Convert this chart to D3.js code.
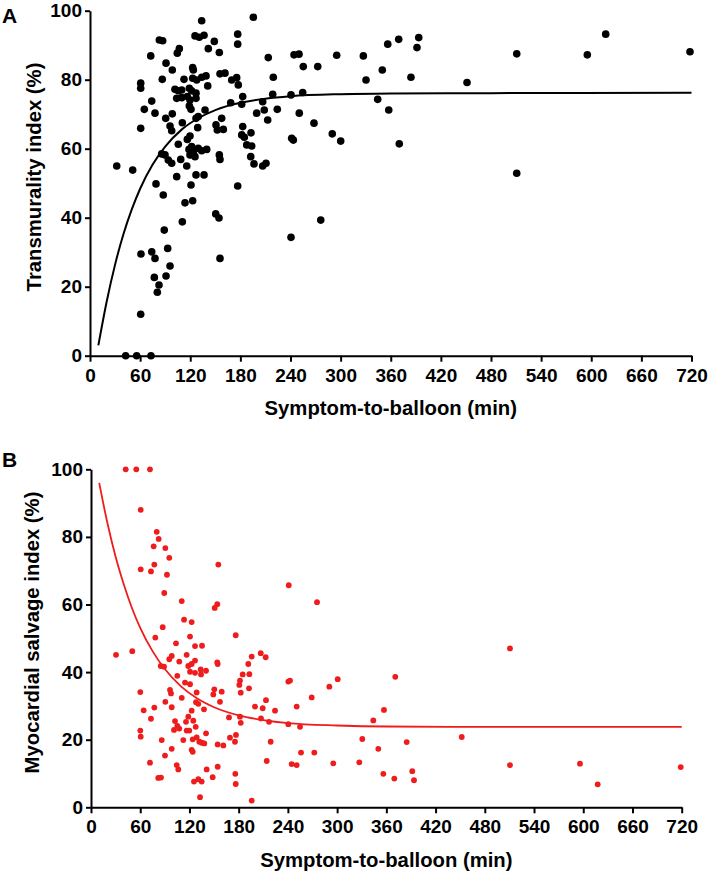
<!DOCTYPE html>
<html><head><meta charset="utf-8">
<script src="https://cdn.jsdelivr.net/npm/d3@7/dist/d3.min.js"></script>
<style>body{margin:0;background:#fff}</style>
</head><body>
<svg id="c" width="709" height="875"></svg>
<script>
const xTicks = [0,60,120,180,240,300,360,420,480,540,600,660,720];
const yTicks = [0,20,40,60,80,100];
const xTitle = "Symptom-to-balloon (min)";
const aTitle = "Transmurality index (%)";
const bTitle = "Myocardial salvage index (%)";

// Panel A: transmurality index vs symptom-to-balloon time
const aMinutes = [133.7,195.5,83.0,87.0,125.7,130.8,136.5,176.8,176.8,148.8,141.6,106.9,104.5,154.8,72.7,213.4,91.0,98.5,122.9,123.7,
155.6,161.6,86.5,112.5,122.9,127.7,133.7,138.9,169.6,175.6,177.5,60.7,60.7,101.7,105.7,109.8,118.9,121.7,126.9,140.9,
103.8,109.8,116.5,119.7,126.9,73.9,182.8,168.4,181.6,206.7,65.0,118.9,120.9,137.7,199.5,208.6,77.8,90.6,98.5,129.6,
126.9,157.6,212.7,110.5,95.8,97.8,60.7,128.9,150.8,152.4,159.6,182.8,181.6,192.7,119.7,116.5,105.7,121.7,118.5,123.7,
129.6,133.7,139.7,119.7,125.7,184.7,187.6,193.6,85.8,89.8,154.8,155.6,192.4,93.7,97.8,108.6,115.8,196.3,206.7,210.7,
32.0,51.1,103.8,126.9,136.5,218.7,219.4,224.2,240.6,241.4,243.4,244.2,250.2,250.5,254.6,255.3,268.1,272.6,290.0,295.3,
300.1,327.2,330.4,344.4,349.9,356.4,357.6,369.5,370.2,384.2,391.4,393.5,451.3,510.8,510.8,595.3,617.3,718.2,113.7,110.5,
150.5,154.4,88.9,93.0,61.0,73.9,77.8,95.8,155.6,77.0,91.0,82.6,80.6,60.7,42.7,55.9,73.0,240.6,276.2,79.0,
87.7,120.9,122.9,176.8];
const aValues = [97.1,98.1,91.5,91.3,92.7,92.3,92.9,93.2,90.3,91.1,89.0,89.0,87.7,87.9,86.9,86.4,84.8,82.8,83.5,82.8,
81.7,81.9,80.1,80.1,80.4,79.9,80.7,81.1,79.9,80.6,78.5,79.0,77.5,77.2,76.8,77.0,77.5,76.8,76.1,78.2,
74.6,74.8,75.1,74.1,74.6,73.8,75.1,73.3,72.9,73.6,71.4,72.4,71.4,71.2,70.3,71.2,70.3,68.8,70.1,69.3,
68.8,68.8,68.3,67.5,66.6,65.2,65.9,66.1,66.9,65.4,65.6,66.4,64.0,64.6,63.7,62.7,61.3,60.6,59.8,59.1,
60.1,59.4,59.8,58.2,57.7,63.3,61.1,60.8,58.5,58.2,58.2,56.9,57.7,56.7,55.8,56.9,55.0,55.6,55.0,55.8,
55.0,53.8,51.9,52.4,52.4,75.8,80.7,71.4,75.6,63.0,62.5,87.2,87.4,70.3,76.3,83.8,67.4,83.8,64.3,87.1,
62.2,86.9,79.9,74.3,82.8,90.3,71.2,91.7,61.4,80.7,89.3,92.2,79.2,87.5,52.9,87.2,93.2,88.1,44.3,38.8,
41.1,39.9,36.4,31.1,29.5,30.1,28.2,26.0,28.2,22.7,23.1,20.5,18.4,12.0,0,0,0,34.3,39.3,49.8,
46.6,49.5,44.9,49.2];
const aFitMinutes = [10,20,30,40,50,60,75,90,110,130,150,180,210,240,300,360,480,720];
const aFitValues  = [3.0,15.7,26.4,35.2,42.4,48.4,55.4,60.6,65.6,68.9,71.2,73.3,74.5,75.2,75.8,76.0,76.1,76.2];

// Panel B: myocardial salvage index vs symptom-to-balloon time
const bMinutes = [42.3,55.2,71.9,60.6,80.1,82.5,76.4,90.6,95.4,60.6,77.2,73.1,92.6,155.2,89.3,110.6,153.9,150.8,241.0,275.5,
87.4,78.4,113.4,122.7,120.7,103.6,176.4,30.5,50.3,126.8,135.3,98.4,95.4,107.6,116.6,126.8,85.0,89.0,118.6,122.7,
153.9,154.4,120.7,126.8,134.1,140.2,133.7,105.2,195.9,191.7,193.0,184.9,206.9,212.9,114.6,120.7,128.8,60.1,96.3,97.5,
150.3,149.1,159.3,181.6,180.8,182.5,192.6,110.6,90.6,98.4,128.0,130.8,157.2,77.2,64.2,122.7,137.7,73.1,118.6,124.7,
115.8,102.4,105.2,107.6,101.2,168.2,181.6,182.5,199.9,209.3,213.3,207.2,217.0,127.6,116.6,119.8,140.2,60.1,60.6,86.2,
112.5,124.0,128.8,132.0,134.9,138.1,154.4,161.3,169.4,176.7,175.5,122.7,124.0,98.4,90.2,71.9,104.5,106.4,154.4,141.0,
214.2,82.0,85.3,125.5,130.8,134.9,148.3,175.9,176.4,132.9,195.9,224.3,219.0,240.5,242.6,240.5,244.6,250.7,250.7,254.8,
256.0,272.2,269.0,290.5,300.7,295.3,327.0,330.7,344.1,350.2,357.1,356.3,369.7,370.9,384.8,391.6,393.7,451.9,510.7,510.7,
596.0,617.6,718.8];
const bValues = [100,100,100,88.0,81.5,79.4,77.2,76.7,73.8,70.4,71.8,69.8,68.8,71.8,63.4,61.0,60.1,59.0,65.7,60.7,
53.3,50.2,55.5,54.8,50.5,48.5,50.9,45.1,46.2,47.7,47.8,44.8,43.8,43.1,45.1,43.4,41.8,41.6,41.8,42.4,
42.9,42.4,40.1,39.8,39.3,40.4,40.8,38.9,44.6,42.4,39.4,39.3,45.6,44.4,36.9,36.4,34.0,34.1,34.7,33.7,
34.9,33.4,34.2,37.5,36.2,33.9,35.2,32.4,31.2,29.6,31.1,30.6,31.2,29.5,28.7,28.6,29.0,26.2,26.8,25.6,
25.3,25.5,24.1,23.3,22.9,26.6,26.8,25.0,29.8,29.3,31.7,26.3,25.3,23.8,22.7,22.7,21.9,22.7,20.9,19.9,
19.9,20.1,20.7,19.4,19.1,18.9,18.6,18.3,20.6,21.4,19.4,17.0,16.4,17.3,15.3,13.2,12.5,11.2,12.0,11.2,
13.7,8.7,8.8,7.6,8.3,7.6,8.9,9.9,6.9,3.0,2.0,28.6,19.4,37.2,37.5,24.6,12.8,12.5,29.8,23.8,
16.2,16.2,32.5,35.7,37.9,13.0,13.3,20.2,25.7,17.3,28.8,9.9,8.5,38.6,19.3,10.7,8.0,20.8,47.0,12.5,
12.9,6.8,11.9];
const bFitMinutes = [10,20,30,40,50,60,75,90,110,130,150,180,210,240,300,360,480,720];
const bFitValues  = [96.0,84.1,74.1,65.9,58.9,53.1,46.2,40.9,35.7,32.1,29.6,27.2,25.8,24.9,24.2,23.9,23.8,23.8];

const svg = d3.select("#c");
const FONT = "'Liberation Sans', Arial, Helvetica, sans-serif";

function panel(o) {
  const x = d3.scaleLinear().domain([0, 720]).range([o.x0, o.x1]);
  const y = d3.scaleLinear().domain([0, 100]).range([o.y0, o.y1]);
  const g = svg.append("g");

  const xa = g.append("g").attr("transform", `translate(0,${o.y0})`)
    .call(d3.axisBottom(x).tickValues(xTicks).tickSize(6).tickPadding(6.5).tickSizeOuter(0));
  const ya = g.append("g").attr("transform", `translate(${o.x0},0)`)
    .call(d3.axisLeft(y).tickValues(yTicks).tickSize(5).tickPadding(3).tickSizeOuter(0));
  [xa, ya].forEach(a => {
    a.select(".domain").attr("stroke", "#000").attr("stroke-width", 2);
    a.selectAll(".tick line").attr("stroke", "#000").attr("stroke-width", 2);
    a.selectAll("text").attr("fill", "#000").style("font-family", FONT)
      .style("font-weight", "bold").style("font-size", "19px");
  });

  const fit = o.fitX.map((d, i) => [d, o.fitY[i]]);
  g.append("path").datum(fit)
    .attr("fill", "none").attr("stroke", o.color).attr("stroke-width", o.lw)
    .attr("d", d3.line().x(d => x(d[0])).y(d => y(d[1])).curve(d3.curveMonotoneX));

  const pts = o.mx.map((d, i) => [d, o.vy[i]]);
  g.append("g").selectAll("circle").data(pts).join("circle")
    .attr("cx", d => x(d[0])).attr("cy", d => y(d[1])).attr("r", o.r).attr("fill", o.color);

  g.append("text").attr("x", (o.x0 + o.x1) / 2).attr("y", o.y0 + o.xtOff)
    .attr("text-anchor", "middle").style("font-family", FONT).style("font-weight", "bold")
    .style("font-size", "20.3px").text(xTitle);
  g.append("text").attr("transform", `translate(${o.ytX},${o.ytY}) rotate(-90)`)
    .attr("text-anchor", "middle").style("font-family", FONT).style("font-weight", "bold")
    .style("font-size", "20.3px").text(o.ytitle);
  g.append("text").attr("x", 2).attr("y", o.labY).style("font-family", FONT)
    .style("font-weight", "bold").style("font-size", "21px").text(o.label);
}

panel({x0: 90, x1: 691.5, y0: 355.7, y1: 10.7, mx: aMinutes, vy: aValues,
  fitX: aFitMinutes, fitY: aFitValues, color: "#000", lw: 2, r: 3.8,
  xtOff: 59.7, ytX: 41, ytY: 177, ytitle: aTitle, label: "A", labY: 23.3});
panel({x0: 91, x1: 681.7, y0: 807.3, y1: 469.3, mx: bMinutes, vy: bValues,
  fitX: bFitMinutes, fitY: bFitValues, color: "#ee1c1c", lw: 1.8, r: 2.9,
  xtOff: 59.7, ytX: 38.5, ytY: 632.5, ytitle: bTitle, label: "B", labY: 466.5});
</script>
</body></html>
